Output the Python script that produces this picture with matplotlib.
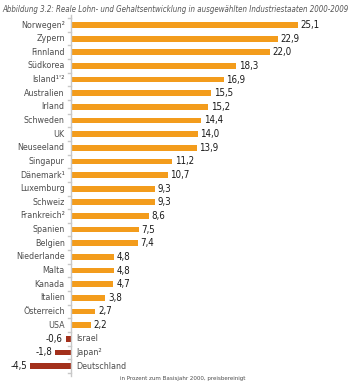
import matplotlib.pyplot as plt

# Daten
laender = ["Norwegen²", "Zypern", "Finnland", "Südkorea", "Island¹'²", "Australien",
           "Irland", "Schweden", "UK", "Neuseeland", "Singapur", "Dänemark¹",
           "Luxemburg", "Schweiz", "Frankreich²", "Spanien", "Belgien", "Niederlande",
           "Malta", "Kanada", "Italien", "Österreich", "USA", "Israel", "Japan²",
           "Deutschland"]
werte = [25.1, 22.9, 22.0, 18.3, 16.9, 15.5, 15.2, 14.4, 14.0, 13.9, 11.2, 10.7,
         9.3, 9.3, 8.6, 7.5, 7.4, 4.8, 4.8, 4.7, 3.8, 2.7, 2.2, -0.6, -1.8, -4.5]

titel = "Abbildung 3.2: Reale Lohn- und Gehaltsentwicklung in ausgewählten Industriestaaten 2000-2009"
fussnote = "in Prozent zum Basisjahr 2000, preisbereinigt"

plt.rcParams['font.family'] = ['DejaVu Sans']
plt.rcParams['font.stretch'] = 'condensed'

orange = "#f39c1c"
rot = "#a3301b"

fig = plt.figure(figsize=(3.58, 3.85), dpi=100)
ax = fig.add_axes([0, 0, 1, 1])

n = len(laender)
pos = list(range(n))
farben = [orange if w >= 0 else rot for w in werte]
ax.barh(pos, werte, height=0.42, color=farben)

# Achsen-Grenzen so, dass die Nulllinie bei ca. 71 px liegt
ax.set_xlim(-7.85, 31.75)
ax.set_ylim(26.39, -1.833)
ax.axis("off")

# senkrechte Achse mit kleinen Strichen
ax.plot([0, 0], [-0.75, n - 0.3], color="#c8c8c8", lw=1.0)
for i in range(-1, n):
    ax.plot([-0.35, 0], [i + 0.5, i + 0.5], color="#c8c8c8", lw=1.0)

for i, (land, w) in enumerate(zip(laender, werte)):
    if w >= 0:
        ax.text(-0.7, i, land, ha="right", va="center", fontsize=6.4, color="#4d4d4d")
        ax.text(w + 0.3, i, f"{w:.1f}".replace(".", ","), ha="left", va="center",
                fontsize=7, color="#1a1a1a")
    else:
        ax.text(0.6, i, land, ha="left", va="center", fontsize=6.4, color="#4d4d4d")
        ax.text(w - 0.3, i, f"{w:.1f}".replace(".", ","), ha="right", va="center",
                fontsize=7, color="#1a1a1a")

fig.text(0.006, 0.988, titel, ha="left", va="top", fontsize=5.7, style="italic",
         color="#555555")
fig.text(0.336, 0.016, fussnote, ha="left", va="center", fontsize=4.4, color="#4d4d4d")

fig.savefig("out.png", dpi=100)
